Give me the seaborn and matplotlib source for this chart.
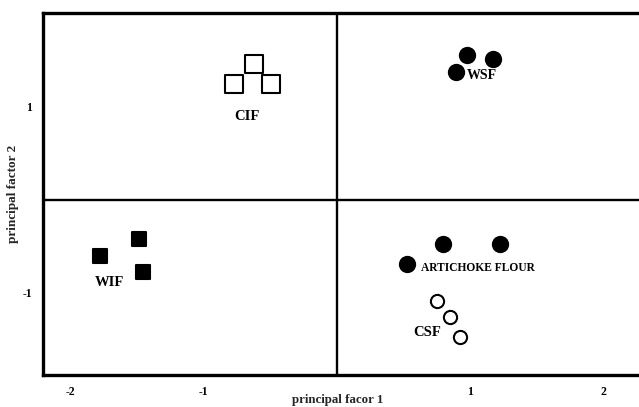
import matplotlib
matplotlib.use("Agg")
import matplotlib.pyplot as plt
import seaborn as sns
import pandas as pd

# ---- data ----
groups = ["CIF", "WSF", "WIF", "ARTICHOKE FLOUR", "CSF"]
cif_x = [-0.773, -0.623, -0.495]
cif_y = [1.249, 1.465, 1.249]
wsf_x = [0.975, 1.170, 0.893]
wsf_y = [1.562, 1.522, 1.378]
wif_x = [-1.780, -1.483, -1.455]
wif_y = [-0.608, -0.424, -0.781]
art_x = [0.797, 1.223, 0.523]
art_y = [-0.478, -0.478, -0.697]
csf_x = [0.748, 0.848, 0.923]
csf_y = [-1.094, -1.274, -1.490]

x_ticks = [-2, -1, 1, 2]
x_ticklabels = ["-2", "-1", "1", "2"]
y_ticks = [-1.5, -1, -0.5, 0.5, 1, 1.5]
y_ticklabels = ["", "-1", "", "", "1", ""]

xs = [cif_x, wsf_x, wif_x, art_x, csf_x]
ys = [cif_y, wsf_y, wif_y, art_y, csf_y]
df = pd.DataFrame({
    "pc1": sum(xs, []),
    "pc2": sum(ys, []),
    "group": sum([[g] * len(x) for g, x in zip(groups, xs)], []),
})

sns.set_theme(style="white")
plt.rcParams["font.family"] = ["Liberation Serif", "DejaVu Serif"]
plt.rcParams["font.weight"] = "bold"

fig = plt.figure(figsize=(6.39, 4.07), dpi=100)
ax = fig.add_axes([0.0673, 0.0786, 0.9327, 0.8895])

styles = {
    "CIF": dict(marker="s", facecolor="white", s=150),
    "WSF": dict(marker="o", facecolor="black", s=120),
    "WIF": dict(marker="s", facecolor="black", s=115),
    "ARTICHOKE FLOUR": dict(marker="o", facecolor="black", s=120),
    "CSF": dict(marker="o", facecolor="white", s=90),
}
for g in groups:
    st = styles[g]
    sns.scatterplot(data=df[df.group == g], x="pc1", y="pc2", ax=ax,
                    marker=st["marker"], color=st["facecolor"],
                    edgecolor="black", linewidth=1.5, s=st["s"],
                    legend=False, zorder=3)

ax.axhline(0, color="black", lw=1.7, zorder=1)
ax.axvline(0, color="black", lw=1.7, zorder=1)

# group labels
lab = dict(fontweight="bold", color="black")
ax.text(-0.675, 0.892, "CIF", ha="center", va="center", fontsize=10.5, **lab)
ax.text(0.975, 1.335, "WSF", ha="left", va="center", fontsize=10, **lab)
ax.text(-1.705, -0.90, "WIF", ha="center", va="center", fontsize=10.5, **lab)
ax.text(0.63, -0.744, "ARTICHOKE FLOUR", ha="left", va="center", fontsize=8.3, **lab)
ax.text(0.673, -1.436, "CSF", ha="center", va="center", fontsize=10.5, **lab)

ax.set_xlim(-2.205, 2.265)
ax.set_ylim(-1.897, 2.016)
ax.set_xticks(x_ticks)
ax.set_xticklabels(x_ticklabels)
ax.set_yticks(y_ticks)
ax.set_yticklabels(y_ticklabels)
ax.tick_params(direction="in", length=7, width=1.5, labelsize=8.5, color="black",
               labelcolor="black", pad=8)
for lbl in ax.get_xticklabels() + ax.get_yticklabels():
    lbl.set_fontweight("bold")

for side in ["left", "bottom", "top"]:
    ax.spines[side].set_visible(True)
    ax.spines[side].set_color("black")
    ax.spines[side].set_linewidth(2.4)
ax.spines["right"].set_visible(False)

ax.set_xlabel("principal facor 1", fontsize=9.3, fontweight="bold")
ax.xaxis.set_label_coords(0.495, -0.052)
ax.set_ylabel("principal factor 2", fontsize=9.5, fontweight="bold", labelpad=2)

fig.savefig("out.png", dpi=100)
